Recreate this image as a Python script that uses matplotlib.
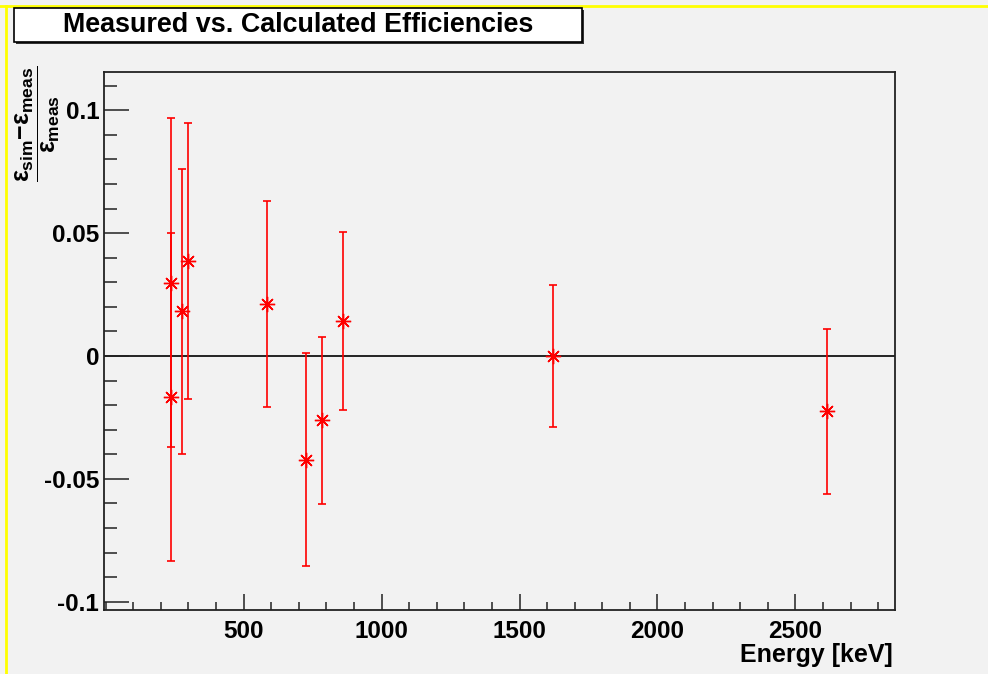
import matplotlib
matplotlib.use("Agg")
import matplotlib.pyplot as plt
from matplotlib.patches import Rectangle
from matplotlib.lines import Line2D
from matplotlib.ticker import MultipleLocator, FixedLocator

# gamma lines (Th-232 chain) and relative deviation (sim - meas) / meas
energy = [238.6, 238.6, 277.4, 300.1, 583.2, 727.3, 785.4, 860.6, 1620.5, 2614.5]
rel_diff = [0.0299, -0.0167, 0.0183, 0.0386, 0.0212, -0.0422, -0.0262, 0.0143, 0.0000, -0.0225]
rel_err = [0.0670, 0.0668, 0.0580, 0.0563, 0.0418, 0.0433, 0.0339, 0.0363, 0.0290, 0.0336]

x_ticks = [500, 1000, 1500, 2000, 2500]
y_ticks = [-0.1, -0.05, 0, 0.05, 0.1]
y_tick_labels = ["-0.1", "-0.05", "0", "0.05", "0.1"]

plt.rcParams["font.family"] = ["Liberation Sans", "DejaVu Sans"]
plt.rcParams["font.weight"] = "bold"
plt.rcParams["mathtext.fontset"] = "custom"
plt.rcParams["mathtext.rm"] = "Liberation Sans:bold"
plt.rcParams["mathtext.bf"] = "Liberation Sans:bold"
plt.rcParams["mathtext.it"] = "Liberation Sans:bold"

W, H = 988, 674
bg = "#f2f2f2"
fig = plt.figure(figsize=(W / 100, H / 100), dpi=100, facecolor=bg)

# canvas border (yellow, top and left only)
fig.add_artist(Line2D([0, 1], [1 - 6 / H, 1 - 6 / H], color="#ffff00", lw=2,
                      transform=fig.transFigure))
fig.add_artist(Line2D([6 / W, 6 / W], [0, 1 - 6 / H], color="#ffff00", lw=2,
                      transform=fig.transFigure))

ax = fig.add_axes([104 / W, 64 / H, (895 - 104) / W, (610 - 72) / H])
ax.set_facecolor(bg)

ax.axhline(0, color="black", lw=1.2, zorder=1)
ax.errorbar(energy, rel_diff, yerr=rel_err, fmt="none", ecolor="red",
            elinewidth=1.2, capsize=2.6, capthick=1.2, zorder=2)
ax.plot(energy, rel_diff, linestyle="none", marker=(8, 2, 0), markersize=11,
        markeredgecolor="red", markeredgewidth=1.0, zorder=3)

ax.set_xlim(-6, 2861)
ax.set_ylim(-0.1034, 0.1156)

ax.xaxis.set_major_locator(FixedLocator(x_ticks))
ax.xaxis.set_minor_locator(MultipleLocator(100))
ax.yaxis.set_major_locator(FixedLocator(y_ticks))
ax.set_yticklabels(y_tick_labels)
ax.yaxis.set_minor_locator(MultipleLocator(0.01))

ax.tick_params(axis="both", which="both", direction="in", colors="#222222",
               labelcolor="black", labelsize=17.5, width=1.1)
ax.tick_params(axis="y", which="major", length=18, pad=3.5)
ax.tick_params(axis="y", which="minor", length=9.5)
ax.tick_params(axis="x", which="major", length=11.5, pad=7)
ax.tick_params(axis="x", which="minor", length=6)
for lab in ax.get_xticklabels() + ax.get_yticklabels():
    lab.set_fontweight("bold")

for s in ax.spines.values():
    s.set_linewidth(1.3)
    s.set_color("#222222")

# x axis title, right aligned under the frame
fig.text(893 / W, 1 - 655 / H, "Energy [keV]", ha="right", va="center",
         fontsize=18, fontweight="bold")

# y axis title as a fraction
fig.text(38 / W, 1 - 124 / H,
         r"$\dfrac{\varepsilon_{\mathbf{sim}}\mathbf{-}\varepsilon_{\mathbf{meas}}}{\varepsilon_{\mathbf{meas}}}$",
         rotation=90, ha="center", va="center", fontsize=18)

# title box with drop shadow
fig.add_artist(Rectangle((16 / W, 1 - 44 / H), (582 - 14) / W, 34 / H,
                         transform=fig.transFigure, facecolor="#333333",
                         edgecolor="none", zorder=5))
fig.add_artist(Rectangle((14 / W, 1 - 42 / H), (582 - 14) / W, 34 / H,
                         transform=fig.transFigure, facecolor="white",
                         edgecolor="black", lw=1.2, zorder=6))
fig.text(298 / W, 1 - 25 / H, "Measured vs. Calculated Efficiencies",
         ha="center", va="center", fontsize=19.4, fontweight="bold", zorder=7)

fig.savefig("out.png", dpi=100, facecolor=bg)
